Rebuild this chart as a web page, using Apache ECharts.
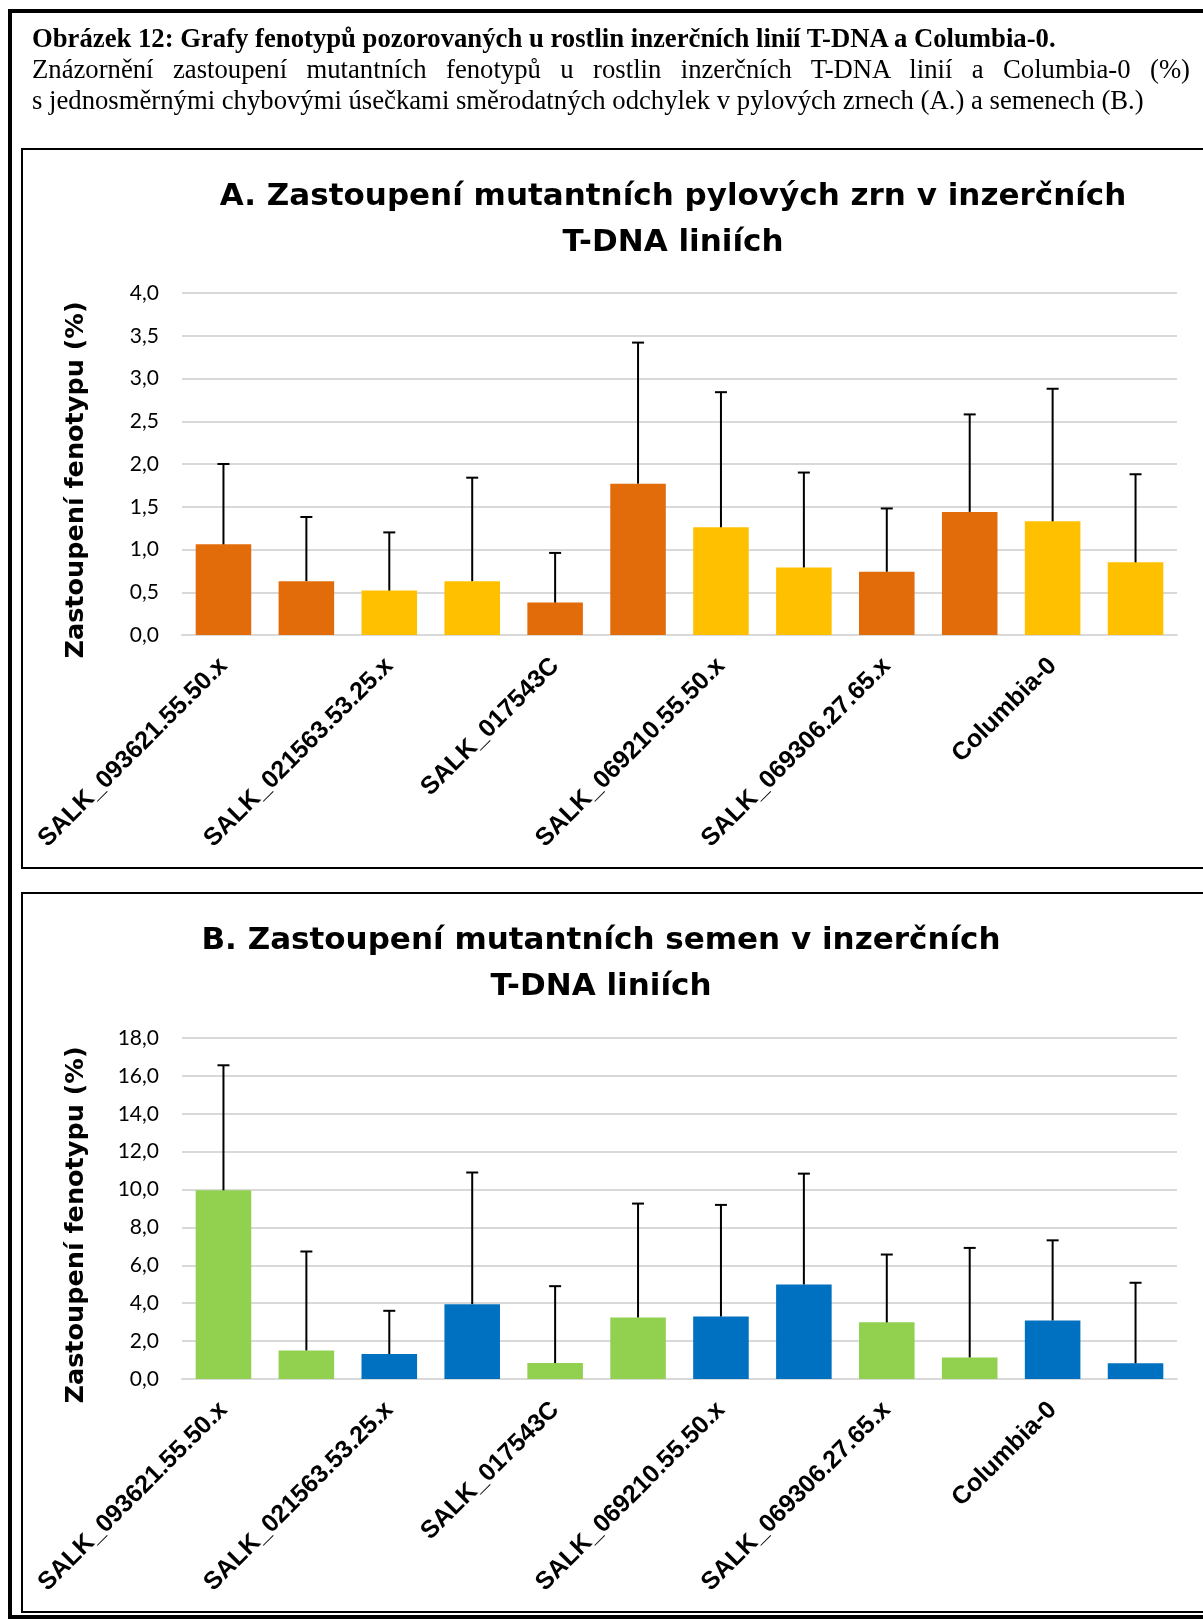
<!DOCTYPE html>
<html>
<head>
<meta charset="utf-8">
<script src="https://cdn.jsdelivr.net/npm/echarts@6/dist/echarts.min.js"></script>
<style>
  html, body { margin: 0; padding: 0; background: #fff; }
  #page { position: relative; width: 1203px; height: 1619px; overflow: hidden; }
  .frame { position: absolute; box-sizing: border-box; pointer-events: none; }
  #outer { left: 8px; top: 9px; width: 1200px; height: 1610px; border: 4px solid #000; border-right: none; }
  #boxA { left: 21px; top: 148px; width: 1190px; height: 721px; border: 2px solid #000; border-right: none; }
  #boxB { left: 21px; top: 892px; width: 1190px; height: 721px; border: 2px solid #000; border-right: none; }
  #caption { position: absolute; left: 32px; top: 23px; width: 1158px; font-family: 'Liberation Serif', 'Times New Roman', serif; font-size: 26.7px; line-height: 31px; color: #000; }
  #caption .l1 { font-weight: bold; }
  #caption .l2 { text-align: justify; text-align-last: justify; }
  #chart { position: absolute; left: 0; top: 0; width: 1203px; height: 1619px; }
</style>
</head>
<body>
<div id="page">
  <div id="chart"></div>
  <div class="frame" id="outer"></div>
  <div class="frame" id="boxA"></div>
  <div class="frame" id="boxB"></div>
  <div id="caption">
    <div class="l1">Obrázek 12: Grafy fenotypů pozorovaných u rostlin inzerčních linií T-DNA a Columbia-0.</div>
    <div class="l2">Znázornění zastoupení mutantních fenotypů u rostlin inzerčních T-DNA linií a Columbia-0 (%)</div>
    <div class="l3">s jednosměrnými chybovými úsečkami směrodatných odchylek v pylových zrnech (A.) a semenech (B.)</div>
  </div>
</div>
<script>
// kategorie - popisek jen u kazdeho druheho sloupce
const categories = ['SALK_093621.55.50.x', '', 'SALK_021563.53.25.x', '', 'SALK_017543C', '',
  'SALK_069210.55.50.x', '', 'SALK_069306.27.65.x', '', 'Columbia-0', '']

// A. pylova zrna (%)
const pollenValues = [1.06, 0.63, 0.52, 0.63, 0.38, 1.77, 1.26, 0.79, 0.74, 1.44, 1.33, 0.85]
const pollenSd = [0.94, 0.75, 0.68, 1.21, 0.58, 1.65, 1.58, 1.11, 0.74, 1.14, 1.55, 1.03]
const pollenTicks = [0, 0.5, 1, 1.5, 2, 2.5, 3, 3.5, 4]

// B. semena (%)
const seedValues = [9.96, 1.51, 1.32, 3.95, 0.84, 3.25, 3.30, 4.99, 2.99, 1.14, 3.09, 0.83]
const seedSd = [6.60, 5.22, 2.28, 6.95, 4.06, 6.01, 5.89, 5.85, 3.58, 5.78, 4.23, 4.25]
const seedTicks = [0, 2, 4, 6, 8, 10, 12, 14, 16, 18]

const pollenColors = ['#E36C0A', '#FFC000']
const seedColors = ['#92D050', '#0070C0']
const gridColor = '#D9D9D9'

const yAxis = (ticks, idx) => ({
  type: 'value',
  gridIndex: idx,
  min: ticks[0],
  max: ticks[ticks.length - 1],
  interval: ticks[1] - ticks[0],
  axisLine: { show: false },
  axisTick: { show: false },
  axisLabel: {
    margin: 23,
    fontFamily: 'Lato',
    fontSize: 21,
    color: '#000',
    formatter: v => v.toFixed(1).replace('.', ','),
  },
  splitLine: { lineStyle: { color: gridColor, width: 2 } },
})

const xAxis = idx => ({
  type: 'category',
  gridIndex: idx,
  data: categories,
  axisLine: { lineStyle: { color: gridColor, width: 2 } },
  axisTick: { show: false },
  axisLabel: {
    interval: 0,
    rotate: 45,
    margin: 27,
    fontFamily: 'Liberation Sans',
    fontWeight: 'bold',
    fontSize: 25,
    color: '#000',
  },
})

const bars = (values, colors, idx) => ({
  type: 'bar',
  xAxisIndex: idx,
  yAxisIndex: idx,
  data: values,
  barCategoryGap: '33%',
  itemStyle: { color: p => colors[Math.floor(p.dataIndex / 2) % 2] },
})

// jednosmerne chybove usecky
const errorBars = (values, sd, idx) => ({
  type: 'custom',
  xAxisIndex: idx,
  yAxisIndex: idx,
  z: 5,
  data: values.map((v, i) => [i, v, v + sd[i]]),
  renderItem: (params, api) => {
    const base = api.coord([api.value(0), api.value(1)])
    const top = api.coord([api.value(0), api.value(2)])
    const half = 6
    const style = { stroke: '#000', lineWidth: 2 }
    return {
      type: 'group',
      children: [
        { type: 'line', shape: { x1: base[0], y1: base[1], x2: top[0], y2: top[1] }, style },
        { type: 'line', shape: { x1: top[0] - half, y1: top[1], x2: top[0] + half, y2: top[1] }, style },
      ],
    }
  },
})

const titleFont = 'bold 31px "DejaVu Sans"'
const axisNameFont = 'bold 25.5px "DejaVu Sans"'

const textEl = (x, y, text, font, rotation) => ({
  type: 'text', x, y, rotation: rotation || 0,
  style: { text, align: 'center', verticalAlign: 'middle', font, lineHeight: 46, fill: '#000' },
})

const chart = echarts.init(document.getElementById('chart'))
chart.setOption({
  animation: false,
  grid: [
    { left: 182, top: 293, width: 995, height: 342 },
    { left: 182, top: 1038, width: 995, height: 341 },
  ],
  xAxis: [xAxis(0), xAxis(1)],
  yAxis: [yAxis(pollenTicks, 0), yAxis(seedTicks, 1)],
  series: [
    bars(pollenValues, pollenColors, 0),
    errorBars(pollenValues, pollenSd, 0),
    bars(seedValues, seedColors, 1),
    errorBars(seedValues, seedSd, 1),
  ],
  graphic: [
    textEl(673, 220, 'A. Zastoupení mutantních pylových zrn v inzerčních\nT-DNA liniích', titleFont),
    textEl(601, 964, 'B. Zastoupení mutantních semen v inzerčních\nT-DNA liniích', titleFont),
    textEl(76, 480, 'Zastoupení fenotypu (%)', axisNameFont, Math.PI / 2),
    textEl(76, 1225, 'Zastoupení fenotypu (%)', axisNameFont, Math.PI / 2),
  ],
})
</script>
</body>
</html>
